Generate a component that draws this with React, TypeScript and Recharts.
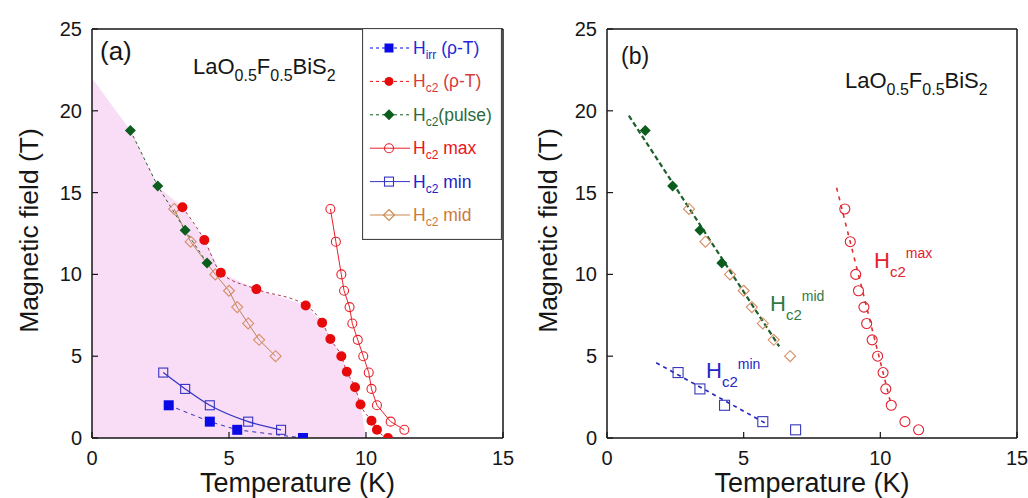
import React from "react"
import { Area, ComposedChart, Label, Legend, Line, XAxis, YAxis } from "recharts"

type Pt = { T: number; H: number }

const hIrrRhoT: Pt[] = [
  { T: 2.8, H: 2.0 },
  { T: 4.3, H: 1.0 },
  { T: 5.3, H: 0.5 },
  { T: 7.7, H: 0 },
]
const hc2RhoT: Pt[] = [
  { T: 3.3, H: 14.1 },
  { T: 4.1, H: 12.1 },
  { T: 4.7, H: 10.1 },
  { T: 6.0, H: 9.1 },
  { T: 7.8, H: 8.1 },
  { T: 8.4, H: 7.05 },
  { T: 8.7, H: 6.05 },
  { T: 9.1, H: 5.0 },
  { T: 9.3, H: 4.05 },
  { T: 9.6, H: 3.1 },
  { T: 9.8, H: 2.05 },
  { T: 10.2, H: 1.05 },
  { T: 10.4, H: 0.5 },
  { T: 10.8, H: 0 },
]
const hc2Pulse: Pt[] = [
  { T: 1.4, H: 18.8 },
  { T: 2.4, H: 15.4 },
  { T: 3.4, H: 12.7 },
  { T: 4.2, H: 10.7 },
]
const hc2Max: Pt[] = [
  { T: 8.7, H: 14 },
  { T: 8.9, H: 12 },
  { T: 9.1, H: 10 },
  { T: 9.2, H: 9 },
  { T: 9.4, H: 8 },
  { T: 9.5, H: 7 },
  { T: 9.7, H: 6 },
  { T: 9.9, H: 5 },
  { T: 10.1, H: 4 },
  { T: 10.2, H: 3 },
  { T: 10.4, H: 2 },
  { T: 10.9, H: 1 },
  { T: 11.4, H: 0.5 },
]
const hc2Min: Pt[] = [
  { T: 2.6, H: 4 },
  { T: 3.4, H: 3 },
  { T: 4.3, H: 2 },
  { T: 5.7, H: 1 },
  { T: 6.9, H: 0.5 },
]
const hc2Mid: Pt[] = [
  { T: 3.0, H: 14 },
  { T: 3.6, H: 12 },
  { T: 4.5, H: 10 },
  { T: 5.0, H: 9 },
  { T: 5.3, H: 8 },
  { T: 5.7, H: 7 },
  { T: 6.1, H: 6 },
  { T: 6.7, H: 5 },
]
// pink superconducting region under the boundary
const scRegion: Pt[] = [
  { T: 0, H: 22 },
  { T: 1.4, H: 18.8 },
  { T: 2.4, H: 15.4 },
  { T: 3.3, H: 14.1 },
  { T: 4.1, H: 12.1 },
  { T: 4.7, H: 10.1 },
  { T: 6.0, H: 9.1 },
  { T: 7.8, H: 8.1 },
  { T: 8.4, H: 7.05 },
  { T: 8.7, H: 6.05 },
  { T: 9.1, H: 5.0 },
  { T: 9.3, H: 4.05 },
  { T: 9.6, H: 3.1 },
  { T: 9.8, H: 2.05 },
  { T: 10.0, H: 0 },
]

// panel (b): dashed guide lines
const midFit: Pt[] = [
  { T: 0.8, H: 19.7 },
  { T: 6.3, H: 5.6 },
]
const minFit: Pt[] = [
  { T: 1.8, H: 4.6 },
  { T: 5.8, H: 0.9 },
]
const maxFit: Pt[] = [
  { T: 8.4, H: 15.3 },
  { T: 10.4, H: 2.0 },
]

const T_TICKS = [0, 5, 10, 15]
const H_TICKS = [0, 5, 10, 15, 20, 25]

const FONT = '"Liberation Sans", Arial, Helvetica, sans-serif'
const INK = "#161616"
const PINK = "#f9dcf5"
const BLUE = "#0a0ae6"
const RED = "#e60a0a"
const GREEN = "#0b5d1e"
const MAX_RED = "#e8202a"
const MIN_BLUE = "#3434c4"
const MID_TAN = "#d68e66"

const PANEL_W = 514
const PANEL_H = 498
const MARGIN = { top: 28, right: 10, bottom: 0, left: 0 }
const TICK_LEN = 6

type Shape = "square" | "circle" | "diamond"

function drawMarker(
  shape: Shape,
  cx: number,
  cy: number,
  color: string,
  filled: boolean,
  size: number,
  key?: React.Key
) {
  const h = size / 2
  const fill = filled ? color : "none"
  const sw = filled ? 0 : 1.1
  if (shape === "circle")
    return <circle key={key} cx={cx} cy={cy} r={h} fill={fill} stroke={color} strokeWidth={sw} />
  if (shape === "square")
    return (
      <rect key={key} x={cx - h} y={cy - h} width={size} height={size} fill={fill} stroke={color} strokeWidth={sw} />
    )
  const d = h + 1
  return (
    <polygon
      key={key}
      points={`${cx},${cy - d} ${cx + d},${cy} ${cx},${cy + d} ${cx - d},${cy}`}
      fill={fill}
      stroke={color}
      strokeWidth={sw}
    />
  )
}

const dotOf = (shape: Shape, color: string, filled: boolean, size = 10) => (p: any) => {
  if (p.cx == null || p.cy == null) return <g key={p.index} />
  return drawMarker(shape, p.cx, p.cy, color, filled, size, p.index)
}

const axisLine = { stroke: INK, strokeWidth: 1.5 }

// tick renderers: tickSize/tickMargin are 0, so x/y sit on the axis line; ticks point inward
const bottomTick = (p: any) => (
  <g key={p.index}>
    <line x1={p.x} x2={p.x} y1={p.y} y2={p.y - TICK_LEN} stroke={INK} strokeWidth={1.2} />
    <text x={p.x} y={p.y + 27} textAnchor="middle" fontSize={20} fill={INK} fontFamily={FONT}>
      {p.payload.value}
    </text>
  </g>
)
const leftTick = (p: any) => (
  <g key={p.index}>
    <line x1={p.x} x2={p.x + TICK_LEN} y1={p.y} y2={p.y} stroke={INK} strokeWidth={1.2} />
    <text x={p.x - 10} y={p.y + 7} textAnchor="end" fontSize={20} fill={INK} fontFamily={FONT}>
      {p.payload.value}
    </text>
  </g>
)
const topTick = (p: any) => (
  <line key={p.index} x1={p.x} x2={p.x} y1={p.y} y2={p.y + TICK_LEN} stroke={INK} strokeWidth={1.2} />
)
const rightTick = (p: any) => (
  <line key={p.index} x1={p.x} x2={p.x - TICK_LEN} y1={p.y} y2={p.y} stroke={INK} strokeWidth={1.2} />
)

// box frame with inward ticks on all four sides
function frameAxes(yWidth: number, yLabelX: number) {
  return [
    <XAxis
      key="xb"
      dataKey="T"
      type="number"
      domain={[0, 15]}
      ticks={T_TICKS}
      interval={0}
      height={60}
      tickSize={0}
      tickMargin={0}
      tick={bottomTick}
      tickLine={false}
      axisLine={axisLine}
      allowDataOverflow
    >
      <Label
        value="Temperature (K)"
        position="insideBottom"
        offset={6}
        style={{ fontSize: 27, fill: INK, fontFamily: FONT }}
      />
    </XAxis>,
    <XAxis
      key="xt"
      xAxisId="top"
      orientation="top"
      type="number"
      domain={[0, 15]}
      ticks={T_TICKS}
      interval={0}
      height={1}
      tickSize={0}
      tickMargin={0}
      tick={topTick}
      tickLine={false}
      axisLine={axisLine}
    />,
    <YAxis
      key="yl"
      type="number"
      domain={[0, 25]}
      ticks={H_TICKS}
      interval={0}
      width={yWidth}
      tickSize={0}
      tickMargin={0}
      tick={leftTick}
      tickLine={false}
      axisLine={axisLine}
      allowDataOverflow
    >
      <Label
        value="Magnetic field (T)"
        angle={-90}
        position="insideLeft"
        offset={yLabelX}
        dy={-3}
        style={{ fontSize: 26.5, fill: INK, fontFamily: FONT, textAnchor: "middle" }}
      />
    </YAxis>,
    <YAxis
      key="yr"
      yAxisId="right"
      orientation="right"
      type="number"
      domain={[0, 25]}
      ticks={H_TICKS}
      interval={0}
      width={1}
      tickSize={0}
      tickMargin={0}
      tick={rightTick}
      tickLine={false}
      axisLine={axisLine}
    />,
  ]
}

type LegendItem = {
  sub: string
  rest: string
  color: string
  text: string
  shape: Shape
  filled: boolean
  dashed: boolean
}

const LEGEND_ITEMS: LegendItem[] = [
  { sub: "irr", rest: " (ρ-T)", color: BLUE, text: "#2626d9", shape: "square", filled: true, dashed: true },
  { sub: "c2", rest: " (ρ-T)", color: RED, text: "#d83a40", shape: "circle", filled: true, dashed: true },
  { sub: "c2", rest: "(pulse)", color: GREEN, text: "#2b6b3b", shape: "diamond", filled: true, dashed: true },
  { sub: "c2", rest: " max", color: MAX_RED, text: "#ea1420", shape: "circle", filled: false, dashed: false },
  { sub: "c2", rest: " min", color: MIN_BLUE, text: "#2222c8", shape: "square", filled: false, dashed: false },
  { sub: "c2", rest: " mid", color: "#c98850", text: "#cc7a3a", shape: "diamond", filled: false, dashed: false },
]

function LegendBox() {
  return (
    <svg width={140} height={212} style={{ display: "block", fontFamily: FONT }}>
      <rect x={0.5} y={0.5} width={139} height={211} fill="#fff" stroke="#444" strokeWidth={1.2} />
      {LEGEND_ITEMS.map((it, i) => {
        const cy = 20 + i * 33.4
        return (
          <g key={i}>
            <line
              x1={8}
              x2={48}
              y1={cy}
              y2={cy}
              stroke={it.color}
              strokeWidth={1}
              strokeDasharray={it.dashed ? "3 3" : undefined}
            />
            {drawMarker(it.shape, 27, cy, it.color, it.filled, 9)}
            <text x={51} y={cy + 6} fontSize={17.5} fill={it.text}>
              H
              <tspan fontSize={12} dy={5}>
                {it.sub}
              </tspan>
              <tspan dy={-5}>{it.rest}</tspan>
            </text>
          </g>
        )
      })}
    </svg>
  )
}

function Formula({ x, y }: { x: number; y: number }) {
  return (
    <text x={x} y={y} fontSize={22} fill={INK}>
      LaO
      <tspan fontSize={16} dy={7}>
        0.5
      </tspan>
      <tspan dy={-7}>F</tspan>
      <tspan fontSize={16} dy={7}>
        0.5
      </tspan>
      <tspan dy={-7}>BiS</tspan>
      <tspan fontSize={16} dy={7}>
        2
      </tspan>
    </text>
  )
}

function HcNote({ x, y, sup, color }: { x: number; y: number; sup: string; color: string }) {
  return (
    <text x={x} y={y} fontSize={22} fill={color}>
      H
      <tspan fontSize={15} dy={9}>
        c2
      </tspan>
      <tspan fontSize={14} dy={-18.5}>
        {sup}
      </tspan>
    </text>
  )
}

function PanelA() {
  return (
    <ComposedChart width={PANEL_W} height={PANEL_H} margin={MARGIN}>
      <Area
        data={scRegion}
        dataKey="H"
        type="linear"
        fill={PINK}
        fillOpacity={1}
        stroke="none"
        legendType="none"
        isAnimationActive={false}
      />
      <Line
        data={hc2Mid}
        dataKey="H"
        stroke="#b8864e"
        strokeWidth={1}
        dot={dotOf("diamond", MID_TAN, false, 9)}
        activeDot={false}
        isAnimationActive={false}
      />
      <Line
        data={hc2Pulse}
        dataKey="H"
        stroke="#2d5a35"
        strokeWidth={1}
        strokeDasharray="3 3"
        dot={dotOf("diamond", GREEN, true, 9)}
        activeDot={false}
        isAnimationActive={false}
      />
      <Line
        data={hc2RhoT}
        dataKey="H"
        type="monotone"
        stroke="#a83a5a"
        strokeWidth={1}
        strokeDasharray="3 3"
        dot={dotOf("circle", RED, true, 10)}
        activeDot={false}
        isAnimationActive={false}
      />
      <Line
        data={hc2Max}
        dataKey="H"
        stroke={MAX_RED}
        strokeWidth={1}
        dot={dotOf("circle", MAX_RED, false, 9)}
        activeDot={false}
        isAnimationActive={false}
      />
      <Line
        data={hc2Min}
        dataKey="H"
        type="monotone"
        stroke={MIN_BLUE}
        strokeWidth={1.2}
        dot={dotOf("square", MIN_BLUE, false, 9)}
        activeDot={false}
        isAnimationActive={false}
      />
      <Line
        data={hIrrRhoT}
        dataKey="H"
        stroke="#3030b0"
        strokeWidth={1}
        strokeDasharray="4 4"
        dot={dotOf("square", BLUE, true, 10)}
        activeDot={false}
        isAnimationActive={false}
      />
      {frameAxes(92, 28.5)}
      <Legend
        layout="vertical"
        align="center"
        verticalAlign="middle"
        content={() => <LegendBox />}
        wrapperStyle={{ left: 362, top: 28, width: 140, height: 212 }}
      />
    </ComposedChart>
  )
}

function PanelB() {
  return (
    <ComposedChart width={PANEL_W} height={PANEL_H} margin={MARGIN}>
      <Line
        data={midFit}
        dataKey="H"
        stroke="#1d5e2a"
        strokeWidth={2.2}
        strokeDasharray="5 3"
        dot={false}
        activeDot={false}
        isAnimationActive={false}
      />
      <Line
        data={minFit}
        dataKey="H"
        stroke="#2424c0"
        strokeWidth={1.6}
        strokeDasharray="4 4"
        dot={false}
        activeDot={false}
        isAnimationActive={false}
      />
      <Line
        data={maxFit}
        dataKey="H"
        stroke="#e03030"
        strokeWidth={1.6}
        strokeDasharray="4 5"
        dot={false}
        activeDot={false}
        isAnimationActive={false}
      />
      <Line
        data={hc2Pulse}
        dataKey="H"
        stroke="none"
        dot={dotOf("diamond", GREEN, true, 9)}
        activeDot={false}
        isAnimationActive={false}
      />
      <Line
        data={hc2Mid}
        dataKey="H"
        stroke="none"
        dot={dotOf("diamond", MID_TAN, false, 9)}
        activeDot={false}
        isAnimationActive={false}
      />
      <Line
        data={hc2Min}
        dataKey="H"
        stroke="none"
        dot={dotOf("square", "#3838b8", false, 10)}
        activeDot={false}
        isAnimationActive={false}
      />
      <Line
        data={hc2Max}
        dataKey="H"
        stroke="none"
        dot={dotOf("circle", "#e02030", false, 10)}
        activeDot={false}
        isAnimationActive={false}
      />
      {frameAxes(93, 33.5)}
    </ComposedChart>
  )
}

export default function App() {
  return (
    <div
      style={{
        position: "absolute",
        left: 0,
        top: 0,
        width: 1028,
        height: 498,
        background: "#fff",
        fontFamily: FONT,
      }}
    >
      <div style={{ position: "absolute", left: 0, top: 0 }}>
        <PanelA />
      </div>
      <div style={{ position: "absolute", left: PANEL_W, top: 0 }}>
        <PanelB />
      </div>
      <svg
        width={1028}
        height={498}
        style={{ position: "absolute", left: 0, top: 0, pointerEvents: "none", fontFamily: FONT }}
      >
        <text x={100} y={59.5} fontSize={26} fill={INK}>
          (a)
        </text>
        <Formula x={193} y={74} />
        <text x={621} y={63.5} fontSize={23} fill={INK}>
          (b)
        </text>
        <Formula x={845} y={87.5} />
        <HcNote x={770} y={310.7} sup="mid" color="#2f7a45" />
        <HcNote x={706} y={378.3} sup="min" color="#2626c8" />
        <HcNote x={874} y={267.7} sup="max" color="#e4202a" />
      </svg>
    </div>
  )
}
